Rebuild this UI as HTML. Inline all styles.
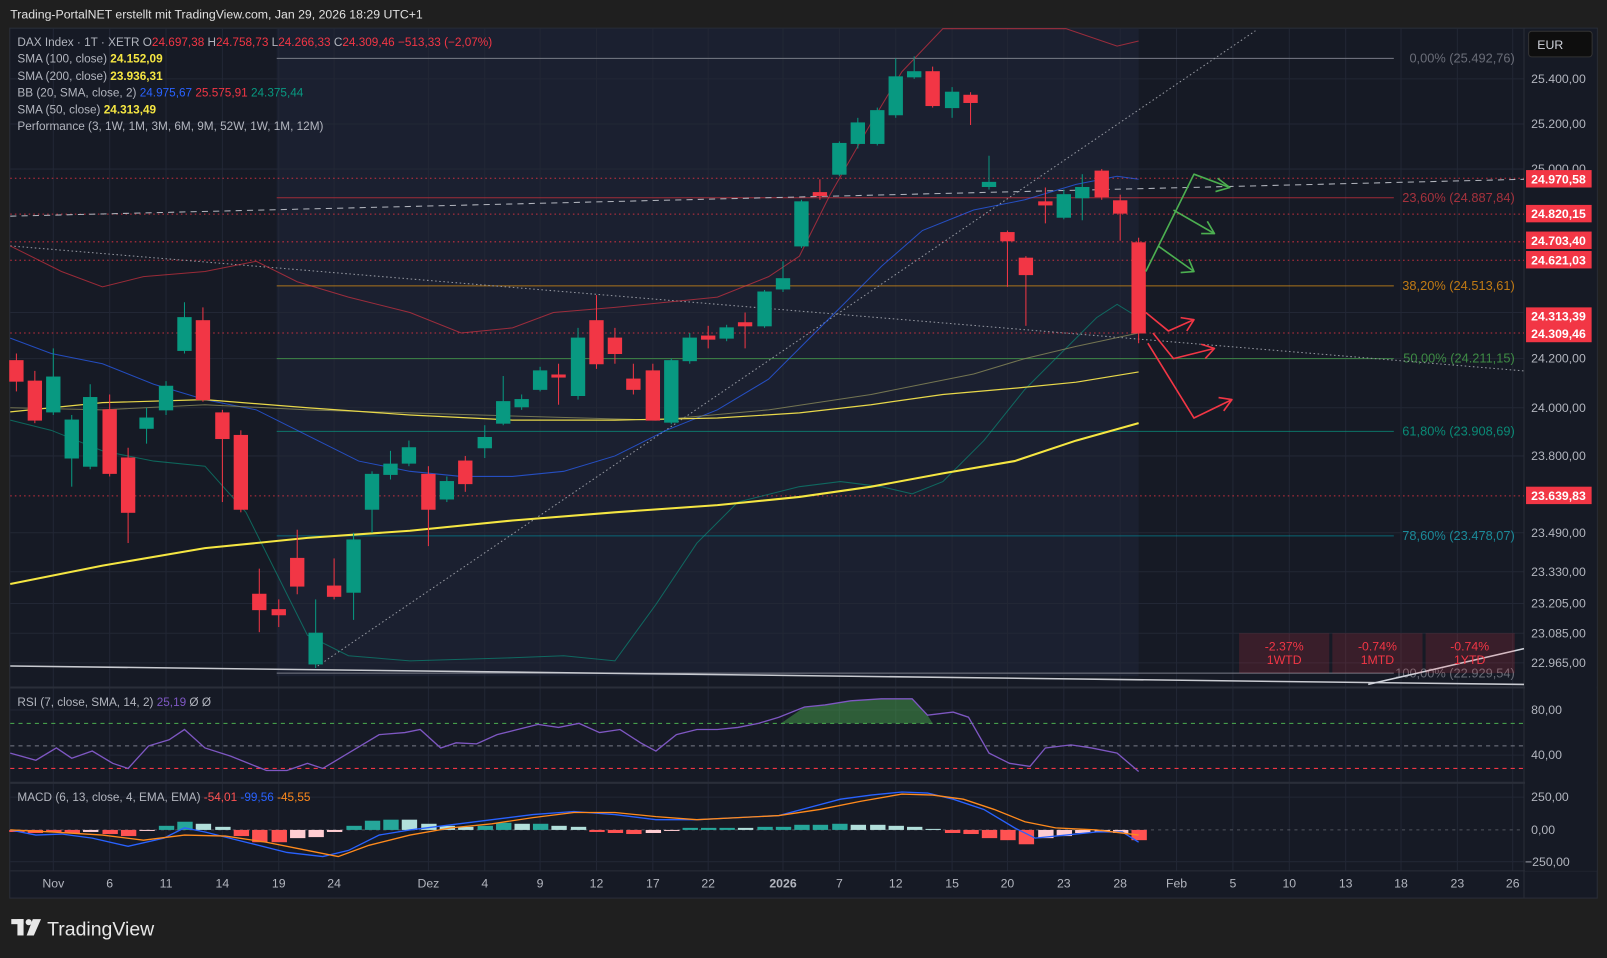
<!DOCTYPE html>
<html><head><meta charset="utf-8"><style>
html,body{margin:0;padding:0;background:#1f1f1f;overflow:hidden}
svg{display:block}
text{font-family:"Liberation Sans",sans-serif}
</style></head><body>
<svg width="1607" height="958" viewBox="0 0 1568 935" preserveAspectRatio="none" xmlns="http://www.w3.org/2000/svg">
<rect x="0" y="0" width="1568" height="935" fill="#1f1f1f"/>
<text x="10" y="18" fill="#e0e0e0" font-size="12">Trading-PortalNET erstellt mit TradingView.com, Jan 29, 2026 18:29 UTC+1</text>
<rect x="9.5" y="27.5" width="1549" height="849" fill="#161a25" stroke="#2a2e39"/>
<rect x="270" y="28" width="841" height="632" fill="#1b2030"/>
<g stroke="#222735" stroke-width="1">
<line x1="52" y1="28" x2="52" y2="850"/><line x1="107" y1="28" x2="107" y2="850"/><line x1="162" y1="28" x2="162" y2="850"/><line x1="217" y1="28" x2="217" y2="850"/><line x1="272" y1="28" x2="272" y2="850"/><line x1="326" y1="28" x2="326" y2="850"/><line x1="418" y1="28" x2="418" y2="850"/><line x1="473" y1="28" x2="473" y2="850"/><line x1="527" y1="28" x2="527" y2="850"/><line x1="582" y1="28" x2="582" y2="850"/><line x1="637" y1="28" x2="637" y2="850"/><line x1="691" y1="28" x2="691" y2="850"/><line x1="764" y1="28" x2="764" y2="850"/><line x1="819" y1="28" x2="819" y2="850"/><line x1="874" y1="28" x2="874" y2="850"/><line x1="929" y1="28" x2="929" y2="850"/><line x1="983" y1="28" x2="983" y2="850"/><line x1="1038" y1="28" x2="1038" y2="850"/><line x1="1093" y1="28" x2="1093" y2="850"/><line x1="1148" y1="28" x2="1148" y2="850"/><line x1="1203" y1="28" x2="1203" y2="850"/><line x1="1258" y1="28" x2="1258" y2="850"/><line x1="1313" y1="28" x2="1313" y2="850"/><line x1="1367" y1="28" x2="1367" y2="850"/><line x1="1422" y1="28" x2="1422" y2="850"/><line x1="1476" y1="28" x2="1476" y2="850"/>
<line x1="10" y1="77" x2="1487" y2="77"/><line x1="10" y1="121" x2="1487" y2="121"/><line x1="10" y1="165" x2="1487" y2="165"/><line x1="10" y1="305" x2="1487" y2="305"/><line x1="10" y1="350" x2="1487" y2="350"/><line x1="10" y1="398" x2="1487" y2="398"/><line x1="10" y1="445" x2="1487" y2="445"/><line x1="10" y1="520" x2="1487" y2="520"/><line x1="10" y1="558" x2="1487" y2="558"/><line x1="10" y1="589" x2="1487" y2="589"/><line x1="10" y1="618" x2="1487" y2="618"/><line x1="10" y1="647" x2="1487" y2="647"/>
<line x1="10" y1="693" x2="1487" y2="693"/><line x1="10" y1="737" x2="1487" y2="737"/><line x1="10" y1="778" x2="1487" y2="778"/><line x1="10" y1="841" x2="1487" y2="841"/>
</g>
<line x1="10" y1="671" x2="1558" y2="671" stroke="#2a2e39" stroke-width="2"/>
<line x1="10" y1="764" x2="1558" y2="764" stroke="#2a2e39" stroke-width="2"/>
<line x1="10" y1="850" x2="1558" y2="850" stroke="#2a2e39"/>
<line x1="1487" y1="28" x2="1487" y2="876" stroke="#2a2e39"/>

<line x1="270" y1="57" x2="1360" y2="57" stroke="#787b86"/>
<line x1="270" y1="193" x2="1360" y2="193" stroke="#c0303c" stroke-opacity=".8"/>
<line x1="270" y1="279" x2="1360" y2="279" stroke="#d08a18" stroke-opacity=".8"/>
<line x1="270" y1="350" x2="1360" y2="350" stroke="#4caf50" stroke-opacity=".7"/>
<line x1="270" y1="421" x2="1360" y2="421" stroke="#089981" stroke-opacity=".7"/>
<line x1="270" y1="523" x2="1360" y2="523" stroke="#0097a7" stroke-opacity=".6"/>
<line x1="270" y1="657" x2="1360" y2="657" stroke="#787b86"/>
<g font-size="12.5" text-anchor="end">
<text x="1478" y="61" fill="#6a6d78">0,00% (25.492,76)</text>
<text x="1478" y="197" fill="#a5323d">23,60% (24.887,84)</text>
<text x="1478" y="283" fill="#c07a14">38,20% (24.513,61)</text>
<text x="1478" y="354" fill="#3e8b44">50,00% (24.211,15)</text>
<text x="1478" y="425" fill="#0a8a76">61,80% (23.908,69)</text>
<text x="1478" y="527" fill="#1b8a99">78,60% (23.478,07)</text>
<text x="1478" y="661" fill="#6a6d78">100,00% (22.929,54)</text>
</g>
<g stroke="#f23645" stroke-dasharray="1.5 3" stroke-opacity=".8">
<line x1="10" y1="174" x2="1487" y2="174"/><line x1="10" y1="209" x2="1487" y2="209"/><line x1="10" y1="236" x2="1487" y2="236"/><line x1="10" y1="254" x2="1487" y2="254"/><line x1="10" y1="325" x2="1487" y2="325"/><line x1="10" y1="484" x2="1487" y2="484"/>
</g>
<line x1="10" y1="211" x2="1487" y2="175" stroke="#b2b5be" stroke-dasharray="6 5"/>
<line x1="10" y1="240" x2="1487" y2="362" stroke="#9598a1" stroke-dasharray="1.5 2.5"/>
<line x1="310" y1="650" x2="1225" y2="30" stroke="#9598a1" stroke-dasharray="1.5 2.5"/>
<line x1="10" y1="650" x2="1487" y2="668" stroke="#c8cad0" stroke-width="1.5"/>
<line x1="1335" y1="668" x2="1487" y2="633" stroke="#d1d4dc" stroke-width="1.5"/>

<polyline fill="none" stroke="#f23645" stroke-opacity=".6" points="10,240 60,265 100,280 140,270 200,265 250,255 290,275 340,290 400,305 450,325 500,320 540,305 600,300 650,295 700,290 750,270 780,250 810,190 850,120 880,70 920,28 1040,28 1090,45 1111,40"/>
<polyline fill="none" stroke="#2962ff" stroke-opacity=".7" points="10,330 50,345 100,355 150,375 200,390 250,400 300,425 350,450 400,460 450,465 500,465 550,460 600,445 650,420 700,400 750,370 780,340 820,300 860,260 900,225 950,205 1000,195 1050,180 1090,172 1111,175"/>
<polyline fill="none" stroke="#089981" stroke-opacity=".6" points="10,410 50,420 100,440 150,450 200,455 240,500 270,560 300,620 340,640 400,645 500,642 550,640 600,645 640,590 680,530 720,490 780,475 820,470 860,475 890,482 920,470 960,430 1000,380 1040,340 1070,310 1090,297 1111,310"/>
<polyline fill="none" stroke="#8a8a5a" stroke-opacity=".8" points="10,398 100,400 200,395 300,400 400,403 500,406 640,410 750,400 850,385 950,365 1000,350 1050,338 1111,325"/>
<polyline fill="none" stroke="#e8d84a" stroke-width="1.2" points="10,402 100,393 200,390 300,398 400,405 500,410 600,410 700,408 780,403 850,395 920,385 1000,378 1050,373 1111,363"/>
<polyline fill="none" stroke="#f5e642" stroke-width="2" points="10,570 100,552 200,535 300,525 400,518 500,508 600,500 700,493 780,485 850,475 920,462 990,450 1050,430 1111,413"/>

<g stroke-width="1">
<g stroke="#f23645" fill="#f23645"><line x1="16" y1="345" x2="16" y2="382"/><rect x="9.5" y="352" width="13" height="20"/></g>
<g stroke="#f23645" fill="#f23645"><line x1="34" y1="362" x2="34" y2="413"/><rect x="27.5" y="372" width="13" height="38"/></g>
<g stroke="#089981" fill="#089981"><line x1="52" y1="340" x2="52" y2="405"/><rect x="45.5" y="368" width="13" height="34"/></g>
<g stroke="#089981" fill="#089981"><line x1="70" y1="405" x2="70" y2="475"/><rect x="63.5" y="410" width="13" height="37"/></g>
<g stroke="#089981" fill="#089981"><line x1="88" y1="375" x2="88" y2="458"/><rect x="81.5" y="388" width="13" height="67"/></g>
<g stroke="#f23645" fill="#f23645"><line x1="107" y1="385" x2="107" y2="465"/><rect x="100.5" y="400" width="13" height="62"/></g>
<g stroke="#f23645" fill="#f23645"><line x1="125" y1="437" x2="125" y2="530"/><rect x="118.5" y="447" width="13" height="53"/></g>
<g stroke="#089981" fill="#089981"><line x1="143" y1="398" x2="143" y2="433"/><rect x="136.5" y="408" width="13" height="10"/></g>
<g stroke="#089981" fill="#089981"><line x1="162" y1="372" x2="162" y2="405"/><rect x="155.5" y="377" width="13" height="23"/></g>
<g stroke="#089981" fill="#089981"><line x1="180" y1="295" x2="180" y2="345"/><rect x="173.5" y="310" width="13" height="32"/></g>
<g stroke="#f23645" fill="#f23645"><line x1="198" y1="300" x2="198" y2="392"/><rect x="191.5" y="313" width="13" height="77"/></g>
<g stroke="#f23645" fill="#f23645"><line x1="217" y1="400" x2="217" y2="490"/><rect x="210.5" y="403" width="13" height="25"/></g>
<g stroke="#f23645" fill="#f23645"><line x1="235" y1="420" x2="235" y2="500"/><rect x="228.5" y="425" width="13" height="72"/></g>
<g stroke="#f23645" fill="#f23645"><line x1="253" y1="555" x2="253" y2="617"/><rect x="246.5" y="580" width="13" height="15"/></g>
<g stroke="#f23645" fill="#f23645"><line x1="272" y1="585" x2="272" y2="612"/><rect x="265.5" y="595" width="13" height="5"/></g>
<g stroke="#f23645" fill="#f23645"><line x1="290" y1="517" x2="290" y2="580"/><rect x="283.5" y="545" width="13" height="27"/></g>
<g stroke="#089981" fill="#089981"><line x1="308" y1="585" x2="308" y2="652"/><rect x="301.5" y="618" width="13" height="30"/></g>
<g stroke="#f23645" fill="#f23645"><line x1="326" y1="545" x2="326" y2="585"/><rect x="319.5" y="572" width="13" height="10"/></g>
<g stroke="#089981" fill="#089981"><line x1="345" y1="520" x2="345" y2="605"/><rect x="338.5" y="527" width="13" height="51"/></g>
<g stroke="#089981" fill="#089981"><line x1="363" y1="460" x2="363" y2="520"/><rect x="356.5" y="463" width="13" height="34"/></g>
<g stroke="#089981" fill="#089981"><line x1="381" y1="440" x2="381" y2="468"/><rect x="374.5" y="453" width="13" height="10"/></g>
<g stroke="#089981" fill="#089981"><line x1="399" y1="430" x2="399" y2="455"/><rect x="392.5" y="437" width="13" height="15"/></g>
<g stroke="#f23645" fill="#f23645"><line x1="418" y1="455" x2="418" y2="533"/><rect x="411.5" y="463" width="13" height="34"/></g>
<g stroke="#089981" fill="#089981"><line x1="436" y1="465" x2="436" y2="490"/><rect x="429.5" y="470" width="13" height="17"/></g>
<g stroke="#f23645" fill="#f23645"><line x1="454" y1="445" x2="454" y2="480"/><rect x="447.5" y="450" width="13" height="22"/></g>
<g stroke="#089981" fill="#089981"><line x1="473" y1="415" x2="473" y2="447"/><rect x="466.5" y="427" width="13" height="10"/></g>
<g stroke="#089981" fill="#089981"><line x1="491" y1="367" x2="491" y2="415"/><rect x="484.5" y="392" width="13" height="21"/></g>
<g stroke="#089981" fill="#089981"><line x1="509" y1="385" x2="509" y2="400"/><rect x="502.5" y="390" width="13" height="7"/></g>
<g stroke="#089981" fill="#089981"><line x1="527" y1="358" x2="527" y2="382"/><rect x="520.5" y="362" width="13" height="18"/></g>
<g stroke="#f23645" fill="#f23645"><line x1="545" y1="355" x2="545" y2="395"/><rect x="538.5" y="366" width="13" height="2"/></g>
<g stroke="#089981" fill="#089981"><line x1="564" y1="320" x2="564" y2="390"/><rect x="557.5" y="330" width="13" height="56"/></g>
<g stroke="#f23645" fill="#f23645"><line x1="582" y1="288" x2="582" y2="360"/><rect x="575.5" y="313" width="13" height="42"/></g>
<g stroke="#f23645" fill="#f23645"><line x1="600" y1="320" x2="600" y2="355"/><rect x="593.5" y="330" width="13" height="15"/></g>
<g stroke="#f23645" fill="#f23645"><line x1="618" y1="355" x2="618" y2="385"/><rect x="611.5" y="370" width="13" height="10"/></g>
<g stroke="#f23645" fill="#f23645"><line x1="637" y1="355" x2="637" y2="410"/><rect x="630.5" y="362" width="13" height="48"/></g>
<g stroke="#089981" fill="#089981"><line x1="655" y1="350" x2="655" y2="414"/><rect x="648.5" y="352" width="13" height="60"/></g>
<g stroke="#089981" fill="#089981"><line x1="673" y1="325" x2="673" y2="355"/><rect x="666.5" y="330" width="13" height="22"/></g>
<g stroke="#f23645" fill="#f23645"><line x1="691" y1="318" x2="691" y2="340"/><rect x="684.5" y="328" width="13" height="3"/></g>
<g stroke="#089981" fill="#089981"><line x1="709" y1="317" x2="709" y2="333"/><rect x="702.5" y="320" width="13" height="10"/></g>
<g stroke="#f23645" fill="#f23645"><line x1="727" y1="305" x2="727" y2="340"/><rect x="720.5" y="315" width="13" height="3"/></g>
<g stroke="#089981" fill="#089981"><line x1="746" y1="283" x2="746" y2="320"/><rect x="739.5" y="285" width="13" height="33"/></g>
<g stroke="#089981" fill="#089981"><line x1="764" y1="255" x2="764" y2="285"/><rect x="757.5" y="272" width="13" height="10"/></g>
<g stroke="#089981" fill="#089981"><line x1="782" y1="195" x2="782" y2="242"/><rect x="775.5" y="197" width="13" height="43"/></g>
<g stroke="#f23645" fill="#f23645"><line x1="800" y1="175" x2="800" y2="195"/><rect x="793.5" y="188" width="13" height="3"/></g>
<g stroke="#089981" fill="#089981"><line x1="819" y1="138" x2="819" y2="172"/><rect x="812.5" y="140" width="13" height="30"/></g>
<g stroke="#089981" fill="#089981"><line x1="837" y1="115" x2="837" y2="145"/><rect x="830.5" y="120" width="13" height="20"/></g>
<g stroke="#089981" fill="#089981"><line x1="856" y1="105" x2="856" y2="142"/><rect x="849.5" y="108" width="13" height="32"/></g>
<g stroke="#089981" fill="#089981"><line x1="874" y1="57" x2="874" y2="115"/><rect x="867.5" y="75" width="13" height="37"/></g>
<g stroke="#089981" fill="#089981"><line x1="892" y1="55" x2="892" y2="77"/><rect x="885.5" y="70" width="13" height="5"/></g>
<g stroke="#f23645" fill="#f23645"><line x1="910" y1="65" x2="910" y2="105"/><rect x="903.5" y="70" width="13" height="33"/></g>
<g stroke="#089981" fill="#089981"><line x1="929" y1="85" x2="929" y2="115"/><rect x="922.5" y="90" width="13" height="15"/></g>
<g stroke="#f23645" fill="#f23645"><line x1="947" y1="90" x2="947" y2="122"/><rect x="940.5" y="93" width="13" height="7"/></g>
<g stroke="#089981" fill="#089981"><line x1="965" y1="152" x2="965" y2="185"/><rect x="958.5" y="178" width="13" height="4"/></g>
<g stroke="#f23645" fill="#f23645"><line x1="983" y1="225" x2="983" y2="280"/><rect x="976.5" y="227" width="13" height="8"/></g>
<g stroke="#f23645" fill="#f23645"><line x1="1001" y1="250" x2="1001" y2="318"/><rect x="994.5" y="252" width="13" height="16"/></g>
<g stroke="#f23645" fill="#f23645"><line x1="1020" y1="183" x2="1020" y2="218"/><rect x="1013.5" y="197" width="13" height="3"/></g>
<g stroke="#089981" fill="#089981"><line x1="1038" y1="185" x2="1038" y2="214"/><rect x="1031.5" y="190" width="13" height="22"/></g>
<g stroke="#089981" fill="#089981"><line x1="1056" y1="170" x2="1056" y2="215"/><rect x="1049.5" y="183" width="13" height="10"/></g>
<g stroke="#f23645" fill="#f23645"><line x1="1075" y1="165" x2="1075" y2="195"/><rect x="1068.5" y="167" width="13" height="25"/></g>
<g stroke="#f23645" fill="#f23645"><line x1="1093" y1="190" x2="1093" y2="235"/><rect x="1086.5" y="196" width="13" height="12"/></g>
<g stroke="#f23645" fill="#f23645"><line x1="1111" y1="232" x2="1111" y2="335"/><rect x="1104.5" y="237" width="13" height="88"/></g>
</g>

<g fill="none" stroke-width="1.6" stroke-linejoin="round">
<g stroke="#4caf50">
<polyline points="1118,265 1165,170 1200,183"/><polyline points="1188,174 1200,183 1186,187"/>
<polyline points="1145,205 1185,228"/><polyline points="1172,228 1185,228 1178,216"/>
<polyline points="1130,240 1165,265"/><polyline points="1152,266 1165,265 1160,253"/>
</g>
<g stroke="#f23645">
<polyline points="1118,305 1140,323 1165,312"/><polyline points="1152,310 1165,312 1158,323"/>
<polyline points="1125,325 1145,350 1185,340"/><polyline points="1172,336 1185,340 1176,350"/>
<polyline points="1120,335 1165,408 1202,390"/><polyline points="1189,388 1202,390 1194,401"/>
</g>
</g>

<g font-size="12" text-anchor="middle">
<rect x="1209" y="618" width="88" height="39" fill="#f23645" fill-opacity=".16"/>
<rect x="1300" y="618" width="88" height="39" fill="#f23645" fill-opacity=".16"/>
<rect x="1391" y="618" width="87" height="39" fill="#f23645" fill-opacity=".16"/>
<text x="1253" y="635" fill="#f23645">-2.37%</text><text x="1253" y="648" fill="#f23645">1WTD</text>
<text x="1344" y="635" fill="#f23645">-0.74%</text><text x="1344" y="648" fill="#f23645">1MTD</text>
<text x="1434" y="635" fill="#f23645">-0.74%</text><text x="1434" y="648" fill="#f23645">1YTD</text>
</g>

<g font-size="11.5">
<text x="17" y="45" fill="#b2b5be">DAX Index · 1T · XETR  O<tspan fill="#f23645">24.697,38</tspan>  H<tspan fill="#f23645">24.758,73</tspan>  L<tspan fill="#f23645">24.266,33</tspan>  C<tspan fill="#f23645">24.309,46  −513,33 (−2,07%)</tspan></text>
<text x="17" y="61" fill="#b2b5be">SMA (100, close) <tspan fill="#f5e642" font-weight="bold"> 24.152,09</tspan></text>
<text x="17" y="78" fill="#b2b5be">SMA (200, close) <tspan fill="#f5e642" font-weight="bold"> 23.936,31</tspan></text>
<text x="17" y="94" fill="#b2b5be">BB (20, SMA, close, 2) <tspan fill="#2962ff"> 24.975,67 </tspan><tspan fill="#f23645"> 25.575,91 </tspan><tspan fill="#089981"> 24.375,44</tspan></text>
<text x="17" y="111" fill="#b2b5be">SMA (50, close) <tspan fill="#f5e642" font-weight="bold"> 24.313,49</tspan></text>
<text x="17" y="127" fill="#b2b5be">Performance (3, 1W, 1M, 3M, 6M, 9M, 52W, 1W, 1M, 12M)</text>
</g>

<rect x="1488" y="28" width="70" height="822" fill="#161a25"/>
<rect x="1491.5" y="30.5" width="62" height="25" rx="3" fill="#0e0e0e" stroke="#333"/>
<text x="1500" y="48" fill="#d1d4dc" font-size="12">EUR</text>
<g font-size="12" fill="#b2b5be">
<text x="1494" y="81">25.400,00</text><text x="1494" y="125">25.200,00</text><text x="1494" y="169">25.000,00</text><text x="1494" y="309">24.400,00</text><text x="1494" y="354">24.200,00</text><text x="1494" y="402">24.000,00</text><text x="1494" y="449">23.800,00</text><text x="1494" y="524">23.490,00</text><text x="1494" y="562">23.330,00</text><text x="1494" y="593">23.205,00</text><text x="1494" y="622">23.085,00</text><text x="1494" y="651">22.965,00</text>
<text x="1494" y="697">80,00</text><text x="1494" y="741">40,00</text>
<text x="1494" y="782">250,00</text><text x="1494" y="814">0,00</text><text x="1488" y="845">−250,00</text>
</g>
<g font-size="12" font-weight="bold" fill="#fff">
<rect x="1489" y="166" width="64" height="17" fill="#f23645"/><text x="1494" y="179">24.970,58</text>
<rect x="1489" y="200" width="64" height="17" fill="#f23645"/><text x="1494" y="213">24.820,15</text>
<rect x="1489" y="226" width="64" height="17" fill="#f23645"/><text x="1494" y="239">24.703,40</text>
<rect x="1489" y="245" width="64" height="17" fill="#f23645"/><text x="1494" y="258">24.621,03</text>
<rect x="1489" y="300" width="64" height="34" fill="#f23645"/><text x="1494" y="313">24.313,39</text><text x="1494" y="330">24.309,46</text>
<rect x="1489" y="475" width="64" height="17" fill="#f23645"/><text x="1494" y="488">23.639,83</text>
</g>

<text x="17" y="689" fill="#b2b5be" font-size="11.5">RSI (7, close, SMA, 14, 2) <tspan fill="#7e57c2"> 25,19 </tspan><tspan> Ø  Ø</tspan></text>
<line x1="10" y1="706" x2="1487" y2="706" stroke="#4caf50" stroke-dasharray="4 4"/>
<line x1="10" y1="728" x2="1487" y2="728" stroke="#787b86" stroke-dasharray="4 4"/>
<line x1="10" y1="750" x2="1487" y2="750" stroke="#f23645" stroke-dasharray="4 4"/>
<polygon points="762,706 785,690 805,688 830,684 860,682 890,682 905,698 910,706" fill="#4caf50" fill-opacity=".45"/>
<polyline fill="none" stroke="#7e57c2" stroke-width="1.3" points="10,735 35,742 55,730 70,740 90,733 110,745 125,750 145,728 165,722 180,712 200,730 225,738 260,752 280,752 300,745 315,750 340,735 370,717 395,715 410,712 430,730 445,725 465,726 485,717 505,712 525,707 545,710 565,706 585,715 605,712 625,725 640,733 660,717 680,712 700,712 720,710 740,706 760,700 785,690 805,688 830,684 860,682 890,682 905,698 930,695 945,700 965,735 985,745 1005,748 1020,730 1045,727 1065,730 1090,735 1111,753"/>

<text x="17" y="782" fill="#b2b5be" font-size="11.5">MACD (6, 13, close, 4, EMA, EMA) <tspan fill="#ff5252"> -54,01 </tspan><tspan fill="#2962ff"> -99,56 </tspan><tspan fill="#ff8a1c"> -45,55</tspan></text>
<line x1="10" y1="810" x2="1487" y2="810" stroke="#787b86" stroke-dasharray="3 4" stroke-opacity=".6"/>
<g>
<rect x="9" y="810" width="15" height="2" fill="#ff5252"/><rect x="27" y="810" width="15" height="3" fill="#ff5252"/><rect x="45" y="810" width="15" height="2" fill="#ff5252"/><rect x="63" y="810" width="15" height="3" fill="#ff5252"/><rect x="81" y="810" width="15" height="2" fill="#ffcdd2"/><rect x="100" y="810" width="15" height="4" fill="#ff5252"/><rect x="118" y="810" width="15" height="6" fill="#ff5252"/><rect x="136" y="810" width="15" height="1" fill="#ffcdd2"/>
<rect x="155" y="806" width="15" height="4" fill="#26a69a"/><rect x="173" y="802" width="15" height="8" fill="#26a69a"/><rect x="191" y="804" width="15" height="6" fill="#b2dfdb"/><rect x="210" y="807" width="15" height="3" fill="#b2dfdb"/>
<rect x="228" y="810" width="15" height="6" fill="#ff5252"/><rect x="246" y="810" width="15" height="12" fill="#ff5252"/><rect x="265" y="810" width="15" height="12" fill="#ff5252"/><rect x="283" y="810" width="15" height="8" fill="#ffcdd2"/><rect x="301" y="810" width="15" height="7" fill="#ffcdd2"/><rect x="319" y="810" width="15" height="2" fill="#ffcdd2"/>
<rect x="338" y="806" width="15" height="4" fill="#26a69a"/><rect x="356" y="801" width="15" height="9" fill="#26a69a"/><rect x="374" y="800" width="15" height="10" fill="#26a69a"/><rect x="392" y="800" width="15" height="10" fill="#b2dfdb"/><rect x="411" y="804" width="15" height="6" fill="#b2dfdb"/><rect x="429" y="806" width="15" height="4" fill="#b2dfdb"/><rect x="447" y="807" width="15" height="3" fill="#b2dfdb"/><rect x="466" y="806" width="15" height="4" fill="#26a69a"/><rect x="484" y="803" width="15" height="7" fill="#26a69a"/><rect x="502" y="804" width="15" height="6" fill="#b2dfdb"/><rect x="520" y="804" width="15" height="6" fill="#26a69a"/><rect x="538" y="806" width="15" height="4" fill="#b2dfdb"/><rect x="557" y="807" width="15" height="3" fill="#b2dfdb"/>
<rect x="575" y="810" width="15" height="2" fill="#ff5252"/><rect x="593" y="810" width="15" height="3" fill="#ff5252"/><rect x="611" y="810" width="15" height="4" fill="#ff5252"/><rect x="630" y="810" width="15" height="3" fill="#ffcdd2"/><rect x="648" y="810" width="15" height="1" fill="#ffcdd2"/>
<rect x="666" y="808" width="15" height="2" fill="#26a69a"/><rect x="684" y="808" width="15" height="2" fill="#26a69a"/><rect x="702" y="808" width="15" height="2" fill="#26a69a"/><rect x="720" y="808" width="15" height="2" fill="#b2dfdb"/><rect x="739" y="807" width="15" height="3" fill="#26a69a"/><rect x="757" y="807" width="15" height="3" fill="#26a69a"/><rect x="775" y="805" width="15" height="5" fill="#26a69a"/><rect x="793" y="805" width="15" height="5" fill="#26a69a"/><rect x="812" y="804" width="15" height="6" fill="#26a69a"/><rect x="830" y="805" width="15" height="5" fill="#b2dfdb"/><rect x="849" y="805" width="15" height="5" fill="#b2dfdb"/><rect x="867" y="806" width="15" height="4" fill="#b2dfdb"/><rect x="885" y="807" width="15" height="3" fill="#b2dfdb"/><rect x="903" y="809" width="15" height="1" fill="#b2dfdb"/>
<rect x="922" y="810" width="15" height="3" fill="#ff5252"/><rect x="940" y="810" width="15" height="4" fill="#ff5252"/><rect x="958" y="810" width="15" height="8" fill="#ff5252"/><rect x="976" y="810" width="15" height="10" fill="#ff5252"/><rect x="994" y="810" width="15" height="14" fill="#ff5252"/><rect x="1013" y="810" width="15" height="8" fill="#ffcdd2"/><rect x="1031" y="810" width="15" height="6" fill="#ffcdd2"/><rect x="1049" y="810" width="15" height="3" fill="#ffcdd2"/><rect x="1068" y="810" width="15" height="2" fill="#ffcdd2"/><rect x="1086" y="810" width="15" height="3" fill="#ffcdd2"/><rect x="1104" y="810" width="15" height="10" fill="#ff5252"/>
</g>
<polyline fill="none" stroke="#2962ff" stroke-width="1.3" points="10,810 35,815 60,814 90,818 125,826 160,818 180,808 200,812 240,822 280,832 315,836 340,830 370,815 400,810 440,805 480,800 520,795 560,792 600,795 640,800 680,800 720,798 760,796 790,788 820,780 850,776 880,773 905,774 930,780 960,790 990,808 1010,818 1040,815 1070,812 1095,812 1111,822"/>
<polyline fill="none" stroke="#ff8a1c" stroke-width="1.3" points="10,810 50,812 100,815 140,820 180,815 220,816 260,822 300,830 330,836 360,825 400,815 440,808 480,804 520,798 560,793 600,793 640,797 680,800 720,798 760,796 800,790 840,782 880,775 910,776 940,780 970,790 1000,802 1030,808 1070,810 1111,815"/>

<g font-size="12" fill="#b2b5be" text-anchor="middle">
<text x="52" y="866">Nov</text><text x="107" y="866">6</text><text x="162" y="866">11</text><text x="217" y="866">14</text><text x="272" y="866">19</text><text x="326" y="866">24</text><text x="418" y="866">Dez</text><text x="473" y="866">4</text><text x="527" y="866">9</text><text x="582" y="866">12</text><text x="637" y="866">17</text><text x="691" y="866">22</text><text x="764" y="866" font-weight="bold">2026</text><text x="819" y="866">7</text><text x="874" y="866">12</text><text x="929" y="866">15</text><text x="983" y="866">20</text><text x="1038" y="866">23</text><text x="1093" y="866">28</text><text x="1148" y="866">Feb</text><text x="1203" y="866">5</text><text x="1258" y="866">10</text><text x="1313" y="866">13</text><text x="1367" y="866">18</text><text x="1422" y="866">23</text><text x="1476" y="866">26</text>
</g>

<g fill="#e8e8e8">
<rect x="11" y="897" width="12" height="5"/><rect x="17" y="897" width="6" height="16"/>
<circle cx="28" cy="900" r="3"/><polygon points="32,897 40,897 33,913 26,913"/>
</g>
<text x="46" y="913" fill="#e8e8e8" font-size="19">TradingView</text>
</svg>
</body></html>
